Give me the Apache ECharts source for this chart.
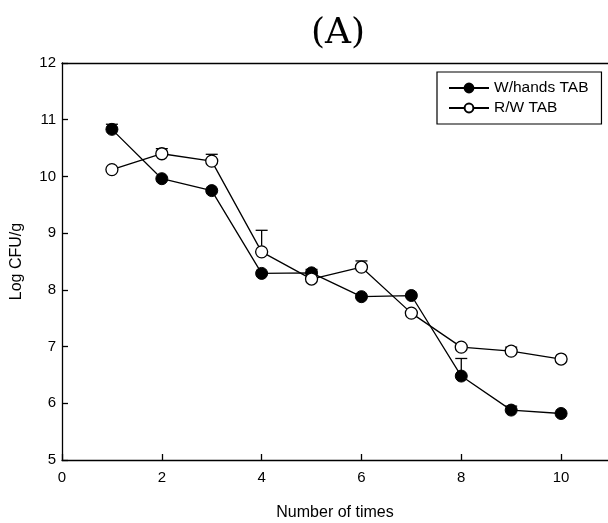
<!DOCTYPE html>
<html>
<head>
<meta charset="utf-8">
<script src="https://cdn.jsdelivr.net/npm/echarts@6/dist/echarts.min.js"></script>
<style>html,body{margin:0;padding:0;background:#fff}#c{width:608px;height:523px}</style>
</head>
<body>
<div id="c"></div>
<script>
const times = [1, 2, 3, 4, 5, 6, 7, 8, 9, 10];
const whValues = [10.83, 9.96, 9.75, 8.29, 8.30, 7.88, 7.90, 6.48, 5.88, 5.82];
const whErr    = [0.09, 0, 0, 0, 0.06, 0, 0, 0.31, 0.07, 0];
const rwValues = [10.12, 10.40, 10.27, 8.67, 8.19, 8.40, 7.59, 6.99, 6.92, 6.78];
const rwErr    = [0, 0.09, 0.12, 0.38, 0, 0.11, 0, 0, 0.07, 0];
const xTicks = [0, 2, 4, 6, 8, 10];
const yTicks = [5, 6, 7, 8, 9, 10, 11, 12];

const chart = echarts.init(document.getElementById('c'));

function errSeries(vals, errs, z) {
  const data = times.map((t, i) => [t, vals[i], vals[i] + errs[i]]).filter((d, i) => errs[i] > 0);
  return {
    type: 'custom',
    z: z,
    silent: true,
    data: data,
    renderItem: function (params, api) {
      const p0 = api.coord([api.value(0), api.value(1)]);
      const p1 = api.coord([api.value(0), api.value(2)]);
      const w = 6;
      return {
        type: 'group',
        children: [
          { type: 'line', shape: { x1: p0[0], y1: p0[1], x2: p1[0], y2: p1[1] }, style: { stroke: '#000', lineWidth: 1.3 } },
          { type: 'line', shape: { x1: p1[0] - w, y1: p1[1], x2: p1[0] + w, y2: p1[1] }, style: { stroke: '#000', lineWidth: 1.3 } }
        ]
      };
    }
  };
}

const axisFont = { fontFamily: 'Liberation Sans', fontSize: 15, color: '#000' };

chart.setOption({
  animation: false,
  backgroundColor: '#fff',
  title: {
    text: '(A)',
    left: 333,
    textAlign: 'center',
    top: 11,
    textStyle: { fontFamily: 'DejaVu Serif', fontWeight: 'normal', fontSize: 36, color: '#000' }
  },
  grid: {
    left: 62, top: 63, right: 0, height: 397,
    show: false,
    containLabel: false,
    outerBoundsMode: 'none'
  },
  legend: {
    data: ['W/hands TAB', 'R/W TAB'],
    orient: 'vertical',
    left: 437, top: 72,
    itemWidth: 40, itemHeight: 11, itemGap: 4,
    padding: [8, 13, 8, 11],
    borderColor: '#000', borderWidth: 1.2,
    textStyle: { fontFamily: 'Liberation Sans', fontSize: 15.5, color: '#000' }
  },
  xAxis: [{
    type: 'value', min: 0, max: 10.94, interval: 2,
    name: 'Number of times', nameLocation: 'middle', nameGap: 45,
    nameTextStyle: { fontFamily: 'Liberation Sans', fontSize: 16, color: '#000' },
    axisLine: { show: true, onZero: false, lineStyle: { color: '#000', width: 1.3 } },
    axisTick: { show: true, inside: true, length: 6, lineStyle: { color: '#000', width: 1.3 } },
    axisLabel: Object.assign({ margin: 10, showMaxLabel: false,
      formatter: v => xTicks.includes(v) ? String(v) : '' }, axisFont),
    splitLine: { show: false }
  }, {
    type: 'value', min: 0, max: 10.94, position: 'top',
    axisLine: { show: true, onZero: false, lineStyle: { color: '#000', width: 1.3 } },
    axisTick: { show: false }, axisLabel: { show: false }, splitLine: { show: false }
  }],
  yAxis: {
    type: 'value', min: 5, max: 12, interval: 1,
    name: 'Log CFU/g', nameLocation: 'middle', nameGap: 37, nameRotate: 90,
    nameTextStyle: { fontFamily: 'Liberation Sans', fontSize: 16, color: '#000' },
    axisLine: { show: true, lineStyle: { color: '#000', width: 1.3 } },
    axisTick: { show: true, inside: true, length: 6, lineStyle: { color: '#000', width: 1.3 } },
    axisLabel: Object.assign({ margin: 6,
      formatter: v => yTicks.includes(v) ? String(v) : '' }, axisFont),
    splitLine: { show: false }
  },
  series: [
    errSeries(whValues, whErr, 1),
    errSeries(rwValues, rwErr, 1),
    {
      name: 'W/hands TAB', type: 'line', z: 3,
      data: times.map((t, i) => [t, whValues[i]]),
      symbol: 'circle', symbolSize: 12,
      lineStyle: { color: '#000', width: 1.3 },
      itemStyle: { color: '#000', borderColor: '#000', borderWidth: 1 }
    },
    {
      name: 'R/W TAB', type: 'line', z: 4,
      data: times.map((t, i) => [t, rwValues[i]]),
      symbol: 'circle', symbolSize: 12,
      lineStyle: { color: '#000', width: 1.3 },
      itemStyle: { color: '#fff', borderColor: '#000', borderWidth: 1.3 }
    }
  ]
});
</script>
</body>
</html>
